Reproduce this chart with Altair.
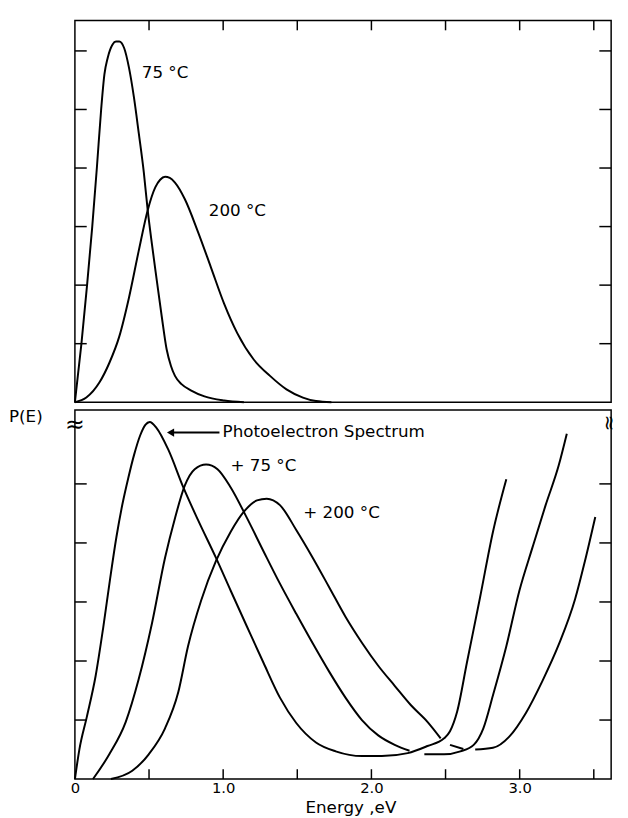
import altair as alt
import pandas as pd

FONT = "DejaVu Sans"

# ---------------- data ----------------
# upper panel: P(E) at two temperatures
top75_E = [0.0, 0.044, 0.082, 0.117, 0.148, 0.177, 0.199, 0.221, 0.254, 0.277, 0.299, 0.332, 0.365,
           0.398, 0.431, 0.465, 0.491, 0.52, 0.553, 0.586, 0.619, 0.648, 0.675, 0.719, 0.785, 0.874,
           1.007, 1.14]
top75_P = [0.0, 1.0, 2.0, 3.0, 4.0, 5.0, 5.6, 5.88, 6.11, 6.16, 6.16, 6.05, 5.71,
           5.21, 4.59, 3.92, 3.28, 2.69, 2.07, 1.46, 0.90, 0.62, 0.45, 0.31, 0.20, 0.10,
           0.03, 0.0]

top200_E = [0.0, 0.077, 0.166, 0.232, 0.299, 0.365, 0.43, 0.491, 0.542, 0.575, 0.608, 0.64, 0.675,
            0.741, 0.83, 0.918, 1.007, 1.095, 1.206, 1.316, 1.427, 1.538, 1.626, 1.73]
top200_P = [0.0, 0.08, 0.34, 0.67, 1.12, 1.79, 2.58, 3.28, 3.67, 3.80, 3.85, 3.83, 3.75,
            3.47, 2.91, 2.30, 1.68, 1.18, 0.73, 0.45, 0.22, 0.08, 0.02, 0.0]

# lower panel: photoelectron spectrum, and spectrum + 75 C, + 200 C
pes_E = [0.0, 0.03, 0.08, 0.14, 0.19, 0.235, 0.28, 0.32, 0.36, 0.40, 0.44, 0.475, 0.505, 0.55,
         0.63, 0.73, 0.83, 0.951, 1.051, 1.161, 1.272, 1.383, 1.493, 1.626, 1.759, 1.936, 2.07,
         2.245, 2.378, 2.49, 2.53, 2.578, 2.644, 2.733, 2.82, 2.91]
pes_P = [0.0, 0.5, 1.05, 1.75, 2.55, 3.35, 4.1, 4.65, 5.1, 5.5, 5.82, 6.0, 6.05, 5.95,
         5.58, 4.95, 4.39, 3.75, 3.19, 2.58, 1.97, 1.38, 0.95, 0.62, 0.47, 0.39, 0.39,
         0.44, 0.56, 0.69, 0.81, 1.14, 1.97, 3.08, 4.19, 5.08]

b75a_E = [0.122, 0.232, 0.343, 0.43, 0.52, 0.608, 0.675, 0.741, 0.808, 0.885, 0.962, 1.051, 1.161,
          1.272, 1.383, 1.493, 1.604, 1.715, 1.825, 1.936, 2.046, 2.157, 2.257]
b75a_P = [0.0, 0.42, 0.97, 1.69, 2.64, 3.75, 4.42, 4.97, 5.25, 5.33, 5.25, 4.94, 4.42,
          3.86, 3.31, 2.8, 2.3, 1.82, 1.38, 1.0, 0.74, 0.58, 0.48]
b75b_E = [2.357, 2.49, 2.6, 2.69, 2.755, 2.82, 2.91, 2.998, 3.086, 3.175, 3.263, 3.318]
b75b_P = [0.42, 0.42, 0.47, 0.58, 0.86, 1.42, 2.25, 3.19, 3.92, 4.64, 5.31, 5.85]

b200a_E = [0.243, 0.387, 0.498, 0.608, 0.697, 0.763, 0.852, 0.951, 1.051, 1.14, 1.228, 1.294, 1.383,
           1.493, 1.604, 1.715, 1.825, 1.936, 2.046, 2.157, 2.267, 2.378, 2.467]
b200a_P = [0.0, 0.14, 0.42, 0.86, 1.47, 2.25, 3.03, 3.69, 4.19, 4.53, 4.72, 4.75, 4.64,
           4.22, 3.75, 3.25, 2.75, 2.31, 1.92, 1.58, 1.25, 0.97, 0.69]
b200b_E = [2.53, 2.62]
b200b_P = [0.58, 0.51]
b200c_E = [2.7, 2.82, 2.93, 3.042, 3.153, 3.264, 3.374, 3.44, 3.51]
b200c_P = [0.5, 0.53, 0.72, 1.12, 1.66, 2.28, 3.05, 3.69, 4.44]

# axis extents and ticks
X_MAX = 3.617
TOP_MAX = 6.52
BOT_MAX = 6.25
x_tick_vals = [0.5, 1.0, 1.5, 2.0, 2.5, 3.0, 3.5]
x_label_vals = [0, 1, 2, 3]
top_y_ticks = [1, 2, 3, 4, 5, 6]
bot_y_ticks = [1, 2, 3, 4, 5]

# annotations
top_text_E = [0.451, 0.903]
top_text_P = [5.63, 3.26]
top_text = ["75 °C", "200 °C"]
bot_text_E = [0.996, 1.049, 1.54]
bot_text_P = [5.87, 5.30, 4.50]
bot_text = ["Photoelectron Spectrum", "+ 75 °C", "+ 200 °C"]
arrow_E = [0.64, 0.975]
arrow_P = [5.87, 5.87]
arrow_tip_E = [0.645]

W, H_TOP, H_BOT = 545, 388, 375


def make_frame(segments):
    rows = []
    for name, E, P in segments:
        for i, (e, p) in enumerate(zip(E, P)):
            rows.append({"seg": name, "E": e, "P": p, "i": i})
    return pd.DataFrame(rows)


top_df = make_frame([("t75", top75_E, top75_P), ("t200", top200_E, top200_P)])
bot_df = make_frame([("pes", pes_E, pes_P), ("b75a", b75a_E, b75a_P), ("b75b", b75b_E, b75b_P),
                     ("b200a", b200a_E, b200a_P), ("b200b", b200b_E, b200b_P),
                     ("b200c", b200c_E, b200c_P)])

xs = alt.Scale(domain=[0, X_MAX], nice=False, zero=False)
ys_top = alt.Scale(domain=[0, TOP_MAX], nice=False, zero=False)
ys_bot = alt.Scale(domain=[0, BOT_MAX], nice=False, zero=False)

xaxis = alt.Axis(values=x_label_vals,
                 labelExpr="datum.value == 0 ? '0' : format(datum.value, '.1f')",
                 ticks=False, domain=False, grid=False, labelFlush=False,
                 labelFont=FONT, labelFontSize=15, labelPadding=2, labelColor="black",
                 title="Energy ,eV", titleFont=FONT, titleFontSize=17, titleFontWeight="normal",
                 titleColor="black", titlePadding=4, titleX=280)

LINE = dict(color="black", strokeWidth=2, interpolate="monotone")
TXT = dict(font=FONT, fontSize=17, color="black")

# ---------------- upper panel ----------------
top_lines = alt.Chart(top_df).mark_line(**LINE).encode(
    x=alt.X("E:Q", scale=xs, axis=None),
    y=alt.Y("P:Q", scale=ys_top, axis=None),
    detail="seg:N", order="i:Q")

ytick_top = pd.DataFrame({"v": top_y_ticks})
xtick_df = pd.DataFrame({"v": x_tick_vals})

top_lt = alt.Chart(ytick_top).mark_rule(color="black", strokeWidth=1.5).encode(
    y=alt.Y("v:Q", scale=ys_top, axis=None), x=alt.value(0), x2=alt.value(12))
top_rt = alt.Chart(ytick_top).mark_rule(color="black", strokeWidth=1.5).encode(
    y=alt.Y("v:Q", scale=ys_top, axis=None), x=alt.value(W), x2=alt.value(W - 12))
top_tt = alt.Chart(xtick_df).mark_rule(color="black", strokeWidth=1.5).encode(
    x=alt.X("v:Q", scale=xs, axis=None), y=alt.value(0), y2=alt.value(10))

top_lab = alt.Chart(pd.DataFrame({"E": top_text_E, "P": top_text_P, "t": top_text})).mark_text(
    align="left", baseline="middle", **TXT).encode(
    x=alt.X("E:Q", scale=xs, axis=None), y=alt.Y("P:Q", scale=ys_top, axis=None), text="t:N")

top = alt.layer(top_lines, top_lt, top_rt, top_tt, top_lab).properties(width=W, height=H_TOP)

# ---------------- lower panel ----------------
bot_lines = alt.Chart(bot_df).mark_line(**LINE).encode(
    x=alt.X("E:Q", scale=xs, axis=xaxis),
    y=alt.Y("P:Q", scale=ys_bot, axis=None),
    detail="seg:N", order="i:Q")

ytick_bot = pd.DataFrame({"v": bot_y_ticks})
bot_lt = alt.Chart(ytick_bot).mark_rule(color="black", strokeWidth=1.5).encode(
    y=alt.Y("v:Q", scale=ys_bot, axis=None), x=alt.value(0), x2=alt.value(12))
bot_rt = alt.Chart(ytick_bot).mark_rule(color="black", strokeWidth=1.5).encode(
    y=alt.Y("v:Q", scale=ys_bot, axis=None), x=alt.value(W), x2=alt.value(W - 12))
bot_bt = alt.Chart(xtick_df).mark_rule(color="black", strokeWidth=1.5).encode(
    x=alt.X("v:Q", scale=xs, axis=xaxis), y=alt.value(H_BOT), y2=alt.value(H_BOT - 10))

bot_lab = alt.Chart(pd.DataFrame({"E": bot_text_E, "P": bot_text_P, "t": bot_text})).mark_text(
    align="left", baseline="middle", **TXT).encode(
    x=alt.X("E:Q", scale=xs, axis=xaxis), y=alt.Y("P:Q", scale=ys_bot, axis=None), text="t:N")

arrow_line = alt.Chart(pd.DataFrame({"E": arrow_E, "P": arrow_P})).mark_line(
    color="black", strokeWidth=2).encode(
    x=alt.X("E:Q", scale=xs, axis=xaxis), y=alt.Y("P:Q", scale=ys_bot, axis=None))
arrow_head = alt.Chart(pd.DataFrame({"E": arrow_tip_E, "P": arrow_P[:1]})).mark_point(
    shape="triangle-left", filled=True, color="black", size=70, opacity=1).encode(
    x=alt.X("E:Q", scale=xs, axis=xaxis), y=alt.Y("P:Q", scale=ys_bot, axis=None))

one = pd.DataFrame({"a": [0]})
pe_label = alt.Chart(one).mark_text(text="P(E)", align="left", baseline="middle", **TXT).encode(
    x=alt.value(-67), y=alt.value(7))
brk_left = alt.Chart(one).mark_text(text="≈", align="center", baseline="middle", font=FONT,
                                    fontSize=24, color="black").encode(
    x=alt.value(0), y=alt.value(15))
brk_right = alt.Chart(one).mark_text(text="≈", align="center", baseline="middle", font=FONT,
                                     fontSize=20, color="black", angle=90).encode(
    x=alt.value(W - 2), y=alt.value(13))

bottom = alt.layer(bot_lines, bot_lt, bot_rt, bot_bt, bot_lab, arrow_line, arrow_head,
                   pe_label, brk_left, brk_right).properties(width=W, height=H_BOT)

chart = alt.vconcat(top, bottom, spacing=0).properties(
    padding={"left": 0, "top": 4, "right": 0, "bottom": 2},
    background="white",
).configure_view(stroke="black", strokeWidth=1.5).configure_axis(grid=False)

chart.save("out.html", embed_options={"renderer": "svg", "actions": False})
